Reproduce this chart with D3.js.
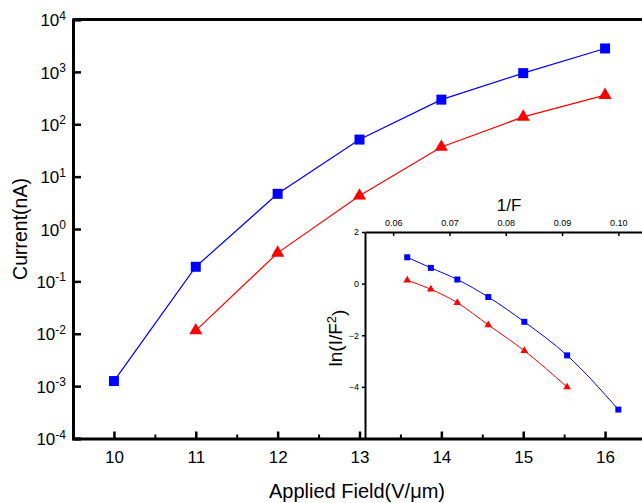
<!DOCTYPE html>
<html>
<head>
<meta charset="utf-8">
<script src="https://cdn.jsdelivr.net/npm/d3@7.9.0/dist/d3.min.js"></script>
<style>
  body { margin: 0; background: #fff; }
  svg { display: block; font-family: "Liberation Sans", Arial, sans-serif; }
</style>
</head>
<body>
<svg id="chart" width="642" height="503"></svg>
<script>
// main plot: current vs applied field
const fields = [10, 11, 12, 13, 14, 15, 16];
const blueCurrent = [1.25e-3, 0.19, 4.7, 51, 295, 945, 2800];
const redFields = [11, 12, 13, 14, 15, 16];
const redCurrent = [0.0115, 0.35, 4.3, 36.8, 138, 359];
const xTicks = [10, 11, 12, 13, 14, 15, 16];
const yExponents = [4, 3, 2, 1, 0, -1, -2, -3, -4];

// inset: FN plot
const invF = [0.0625, 0.0667, 0.0714, 0.0769, 0.0833, 0.0909, 0.1];
const blueLn = [1.02, 0.61, 0.16, -0.52, -1.48, -2.78, -4.88];
const redInvF = [0.0625, 0.0667, 0.0714, 0.0769, 0.0833, 0.0909];
const redLn = [0.13, -0.22, -0.74, -1.60, -2.60, -4.01];
const insetXTicks = [0.06, 0.07, 0.08, 0.09, 0.10];
const insetYTicks = [2, 0, -2, -4];

const svg = d3.select("#chart");
const BLUE = "#0000ff", RED = "#ff0000";

let x = d3.scaleLinear().domain([9.5, 16.5]).range([73, 646]);
let y = d3.scaleLog().domain([1e-4, 1e4]).range([438.5, 19.5]);

// frame top + left
svg.append("line").attr("x1", 73).attr("x2", 642).attr("y1", 19.5).attr("y2", 19.5)
  .attr("stroke", "#000").attr("stroke-width", 3);

let yAxis = svg.append("g")
  .attr("transform", "translate(73,0)")
  .call(d3.axisLeft(y).tickValues(yExponents.map(e => Math.pow(10, e)))
    .tickSize(-8).tickPadding(12).tickFormat(""));
yAxis.select(".domain").attr("stroke-width", 3);
yAxis.selectAll(".tick line").attr("stroke-width", 2.5);
yAxis.selectAll(".tick").each(function (d) {
  let e = Math.round(Math.log10(d));
  let t = d3.select(this).append("text")
    .attr("x", -7).attr("dy", "0.36em").attr("text-anchor", "end")
    .attr("fill", "#000").attr("font-size", 17);
  t.append("tspan").text("10");
  t.append("tspan").attr("dy", "-0.55em").attr("font-size", 12).text(e);
});

svg.append("text")
  .attr("transform", "translate(27,229) rotate(-90)")
  .attr("text-anchor", "middle").attr("font-size", 19.5)
  .text("Current(nA)");

let line = d3.line().x(d => x(d[0])).y(d => y(d[1]));

let blueData = fields.map((f, i) => [f, blueCurrent[i]]);
let redData = redFields.map((f, i) => [f, redCurrent[i]]);

svg.append("path").attr("d", line(blueData)).attr("fill", "none")
  .attr("stroke", BLUE).attr("stroke-width", 1.2);
svg.append("path").attr("d", line(redData)).attr("fill", "none")
  .attr("stroke", RED).attr("stroke-width", 1.2);

svg.selectAll(".bsq").data(blueData).enter().append("path")
  .attr("transform", d => `translate(${x(d[0])},${y(d[1])})`)
  .attr("d", d3.symbol(d3.symbolSquare, 100))
  .attr("fill", BLUE);
svg.selectAll(".rtri").data(redData).enter().append("path")
  .attr("transform", d => `translate(${x(d[0])},${y(d[1])})`)
  .attr("d", d3.symbol(d3.symbolTriangle, 75))
  .attr("fill", RED);

// inset
let ix = d3.scaleLinear().domain([0.055, 0.105]).range([365, 646.5]);
let iy = d3.scaleLinear().domain([-6, 2]).range([438.5, 232]);

let inset = svg.append("g");
inset.append("rect").attr("x", 365).attr("y", 232).attr("width", 280).attr("height", 206)
  .attr("fill", "#fff");

let ixAxis = inset.append("g")
  .attr("transform", "translate(0,232)")
  .call(d3.axisTop(ix).tickValues(insetXTicks).tickSizeInner(-4).tickSizeOuter(0)
    .tickPadding(6).tickFormat(d3.format(".2f")));
ixAxis.select(".domain").attr("stroke-width", 2);
ixAxis.selectAll(".tick line").attr("stroke-width", 1.5);
ixAxis.selectAll(".tick text").attr("font-size", 9);

let iyAxis = inset.append("g")
  .attr("transform", "translate(365,0)")
  .call(d3.axisLeft(iy).tickValues(insetYTicks).tickSizeInner(3).tickSizeOuter(0)
    .tickPadding(3).tickFormat(d3.format("d")));
iyAxis.select(".domain").attr("stroke-width", 2);
iyAxis.selectAll(".tick line").attr("stroke-width", 1.5);
iyAxis.selectAll(".tick text").attr("font-size", 9);

inset.append("text").attr("x", 509).attr("y", 211).attr("text-anchor", "middle")
  .attr("font-size", 17).text("1/F");

let ilab = inset.append("text")
  .attr("transform", "translate(342,338) rotate(-90)")
  .attr("text-anchor", "middle").attr("font-size", 19);
ilab.append("tspan").text("ln(I/F");
ilab.append("tspan").attr("dy", "-0.5em").attr("font-size", 13).text("2");
ilab.append("tspan").attr("dy", "0.5em").text(")");

let iBlue = invF.map((v, i) => [v, blueLn[i]]);
let iRed = redInvF.map((v, i) => [v, redLn[i]]);
let iline = d3.line().x(d => ix(d[0])).y(d => iy(d[1])).curve(d3.curveMonotoneX);

inset.append("path").attr("d", iline(iBlue)).attr("fill", "none")
  .attr("stroke", BLUE).attr("stroke-width", 1);
inset.append("path").attr("d", iline(iRed)).attr("fill", "none")
  .attr("stroke", RED).attr("stroke-width", 1);

inset.selectAll(".ibsq").data(iBlue).enter().append("path")
  .attr("transform", d => `translate(${ix(d[0])},${iy(d[1])})`)
  .attr("d", d3.symbol(d3.symbolSquare, 36))
  .attr("fill", BLUE);
inset.selectAll(".irtri").data(iRed).enter().append("path")
  .attr("transform", d => `translate(${ix(d[0])},${iy(d[1])})`)
  .attr("d", d3.symbol(d3.symbolTriangle, 26))
  .attr("fill", RED);

// main x axis drawn last so its ticks sit over the inset
let xMinor = d3.range(9.5, 16.6, 0.5).filter(v => !xTicks.includes(v));
let xAxisMinor = svg.append("g")
  .attr("transform", "translate(0,438.5)")
  .call(d3.axisBottom(x).tickValues(xMinor).tickSize(-4).tickFormat(""));
xAxisMinor.select(".domain").remove();
xAxisMinor.selectAll(".tick line").attr("stroke-width", 2);

let xAxis = svg.append("g")
  .attr("transform", "translate(0,438.5)")
  .call(d3.axisBottom(x).tickValues(xTicks).tickSize(-7).tickSizeOuter(0)
    .tickPadding(12).tickFormat(d3.format("d")));
xAxis.select(".domain").attr("stroke-width", 3);
xAxis.selectAll(".tick line").attr("stroke-width", 2.5);
xAxis.selectAll(".tick text").attr("font-size", 17).attr("fill", "#000");

svg.append("text").attr("x", 357).attr("y", 498).attr("text-anchor", "middle")
  .attr("font-size", 20).text("Applied Field(V/μm)");
</script>
</body>
</html>
